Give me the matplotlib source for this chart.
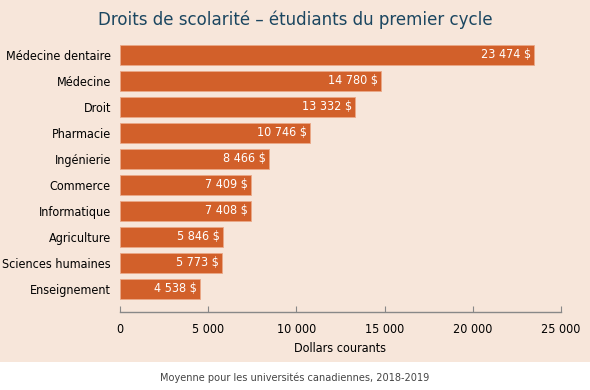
import matplotlib
matplotlib.use('Agg')
import matplotlib.pyplot as plt
from matplotlib.patches import Rectangle

# ── Data ─────────────────────────────────────────────
programs = ['Médecine dentaire', 'Médecine', 'Droit', 'Pharmacie', 'Ingénierie',
            'Commerce', 'Informatique', 'Agriculture', 'Sciences humaines', 'Enseignement']
fees = [23474, 14780, 13332, 10746, 8466, 7409, 7408, 5846, 5773, 4538]
xticks = [0, 5000, 10000, 15000, 20000, 25000]

BG = '#f7e6da'
BAR = '#d2602a'
TITLE = '#1b4660'


def fmt(v):
    return f'{v:,}'.replace(',', ' ')


plt.rcParams['font.family'] = ['DejaVu Sans']
plt.rcParams['font.stretch'] = 'condensed'

fig = plt.figure(figsize=(5.9, 3.9), dpi=100)
fig.patch.set_facecolor('white')
fig.patches.append(Rectangle((0, 28 / 390), 1, 1 - 28 / 390, transform=fig.transFigure,
                             facecolor=BG, edgecolor='none', zorder=-10))

ax = fig.add_axes([120 / 590, 78 / 390, 441 / 590, 270 / 390])
ax.set_facecolor('none')

ypos = list(range(len(programs)))
ax.barh(ypos, fees, height=0.75, color=BAR, edgecolor='#eaa888', linewidth=0.6)
for y, v in zip(ypos, fees):
    ax.text(v - 170, y, f'{fmt(v)} $', ha='right', va='center', color='white', fontsize=9)

ax.set_ylim(9.885, -0.5)
ax.set_xlim(0, 25000)
ax.set_yticks(ypos)
ax.set_yticklabels(programs, fontsize=9)
ax.tick_params(axis='y', length=0, pad=6.5)
ax.set_xticks(xticks)
ax.set_xticklabels([fmt(t) for t in xticks], fontsize=9)
ax.tick_params(axis='x', direction='in', length=4, color='#888888', pad=8)

for s in ['top', 'right', 'left']:
    ax.spines[s].set_visible(False)
ax.spines['bottom'].set_color('#888888')
ax.spines['bottom'].set_linewidth(1.0)

ax.set_xlabel('Dollars courants', fontsize=9, labelpad=4)

fig.text(0.5, 1 - 20 / 390, 'Droits de scolarité – étudiants du premier cycle',
         ha='center', va='center', fontsize=13.3, color=TITLE)
fig.text(295 / 590, 1 - 378 / 390, 'Moyenne pour les universités canadiennes, 2018-2019',
         ha='center', va='center', fontsize=7.8, color='#444444')

fig.savefig('out.png', dpi=100, facecolor=fig.get_facecolor())
